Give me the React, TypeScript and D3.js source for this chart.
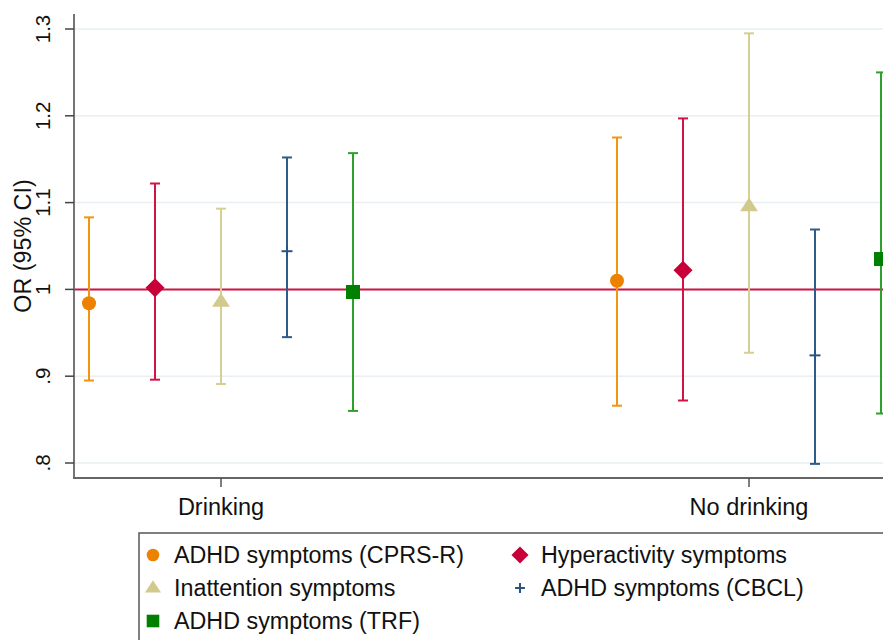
import React from 'react';
import * as d3 from 'd3';

// groups on the x axis
const groups = ['Drinking', 'No drinking'];

// outcome series (legend order)
const series = [
  'ADHD symptoms (CPRS-R)',
  'Hyperactivity symptoms',
  'Inattention symptoms',
  'ADHD symptoms (CBCL)',
  'ADHD symptoms (TRF)',
];

// odds ratios and 95% CI, one row per group, one column per series
const estimates = [
  [0.984, 1.002, 0.986, 1.044, 0.997],
  [1.01, 1.022, 1.096, 0.924, 1.035],
];
const lower = [
  [0.895, 0.896, 0.891, 0.945, 0.86],
  [0.866, 0.872, 0.927, 0.799, 0.857],
];
const upper = [
  [1.083, 1.122, 1.093, 1.152, 1.157],
  [1.175, 1.197, 1.295, 1.069, 1.25],
];

const yTicks = [0.8, 0.9, 1.0, 1.1, 1.2, 1.3];
const yTickLabels = ['.8', '.9', '1', '1.1', '1.2', '1.3'];

const lineColors = ['#f29512', '#d31245', '#d6cf94', '#2f5b88', '#2ea02e'];
const markerColors = ['#ec8200', '#c8003a', '#d2ca8c', '#2a5583', '#008000'];
const shapes = ['circle', 'diamond', 'triangle', 'plus', 'square'];

const W = 883;
const H = 640;
const FONT = '"Liberation Sans", Arial, sans-serif';

const Marker: React.FC<{ shape: string; x: number; y: number; color: string; s?: number }> = ({ shape, x, y, color, s = 1 }) => {
  if (shape === 'circle') return <circle cx={x} cy={y} r={7 * s} fill={color} />;
  if (shape === 'diamond') {
    const r = 9.5 * s;
    return <path d={`M${x},${y - r}L${x + r},${y}L${x},${y + r}L${x - r},${y}Z`} fill={color} />;
  }
  if (shape === 'triangle') {
    const r = 8.5 * s;
    return <path d={`M${x},${y - r}L${x + r * 1.05},${y + r * 0.6}L${x - r * 1.05},${y + r * 0.6}Z`} fill={color} />;
  }
  if (shape === 'square') {
    const r = 7 * s;
    return <rect x={x - r} y={y - r} width={2 * r} height={2 * r} fill={color} />;
  }
  const r = 5.5 * s;
  return (
    <g stroke={color} strokeWidth={2}>
      <line x1={x - r} x2={x + r} y1={y} y2={y} />
      <line x1={x} x2={x} y1={y - r} y2={y + r} />
    </g>
  );
};

export default function App() {
  const plotLeft = 74;
  const plotRight = 896;
  const plotBottom = 478;

  const y = d3.scaleLinear().domain([0.8, 1.3]).range([463, 29]);
  const xGroup = d3.scalePoint<string>().domain(groups).range([221, 749]);
  const xOffset = d3.scalePoint<string>().domain(series).range([-132, 132]);

  const cap = 5;

  const legendCols = [153, 520];
  const legendRows = [555, 588, 621];

  return (
    <svg width={W} height={H} style={{ position: 'absolute', left: 0, top: 0, background: '#fff' }} fontFamily={FONT}>
      <rect x={0} y={0} width={W} height={H} fill="#fff" />

      {/* grid lines */}
      {yTicks.map((t) => (
        <line key={'g' + t} x1={plotLeft} x2={plotRight} y1={y(t)} y2={y(t)} stroke="#e9eff3" strokeWidth={1.5} />
      ))}

      {/* reference line at OR = 1 */}
      <line x1={plotLeft} x2={plotRight} y1={y(1)} y2={y(1)} stroke="#cf1442" strokeWidth={2} />

      {/* error bars and points */}
      {groups.map((g, gi) =>
        series.map((s, si) => {
          const cx = (xGroup(g) as number) + (xOffset(s) as number);
          return (
            <g key={g + s}>
              <g stroke={lineColors[si]} strokeWidth={2}>
                <line x1={cx} x2={cx} y1={y(lower[gi][si])} y2={y(upper[gi][si])} />
                <line x1={cx - cap} x2={cx + cap} y1={y(lower[gi][si])} y2={y(lower[gi][si])} />
                <line x1={cx - cap} x2={cx + cap} y1={y(upper[gi][si])} y2={y(upper[gi][si])} />
              </g>
              <Marker shape={shapes[si]} x={cx} y={y(estimates[gi][si])} color={markerColors[si]} />
            </g>
          );
        })
      )}

      {/* y axis */}
      <line x1={plotLeft} x2={plotLeft} y1={14} y2={plotBottom} stroke="#666" strokeWidth={1.8} />
      {yTicks.map((t, i) => (
        <g key={'t' + t}>
          <line x1={plotLeft - 9} x2={plotLeft} y1={y(t)} y2={y(t)} stroke="#444" strokeWidth={1.5} />
          <text
            transform={`translate(50,${y(t)}) rotate(-90)`}
            textAnchor="middle"
            fontSize={20.5}
            fill="#111"
          >
            {yTickLabels[i]}
          </text>
        </g>
      ))}
      <text transform={`translate(31,${(y(0.8) + y(1.3)) / 2}) rotate(-90)`} textAnchor="middle" fontSize={23.3} fill="#111">
        OR (95% CI)
      </text>

      {/* x axis */}
      <line x1={plotLeft - 1} x2={plotRight} y1={plotBottom} y2={plotBottom} stroke="#666" strokeWidth={1.8} />
      {groups.map((g) => (
        <g key={'x' + g}>
          <line x1={xGroup(g)} x2={xGroup(g)} y1={plotBottom} y2={plotBottom + 9} stroke="#555" strokeWidth={1.5} />
          <text x={xGroup(g)} y={515} textAnchor="middle" fontSize={23.5} fill="#111">
            {g}
          </text>
        </g>
      ))}

      {/* legend */}
      <rect x={139} y={533} width={W} height={H} fill="#fff" stroke="#555" strokeWidth={1.5} />
      {series.map((s, si) => {
        const col = si % 2;
        const row = Math.floor(si / 2);
        const mx = legendCols[col];
        const my = legendRows[row];
        return (
          <g key={'l' + s}>
            <Marker shape={shapes[si]} x={mx} y={my} color={markerColors[si]} s={0.9} />
            <text x={mx + 21} y={my + 8} fontSize={23.3} fill="#111">
              {s}
            </text>
          </g>
        );
      })}
    </svg>
  );
}
